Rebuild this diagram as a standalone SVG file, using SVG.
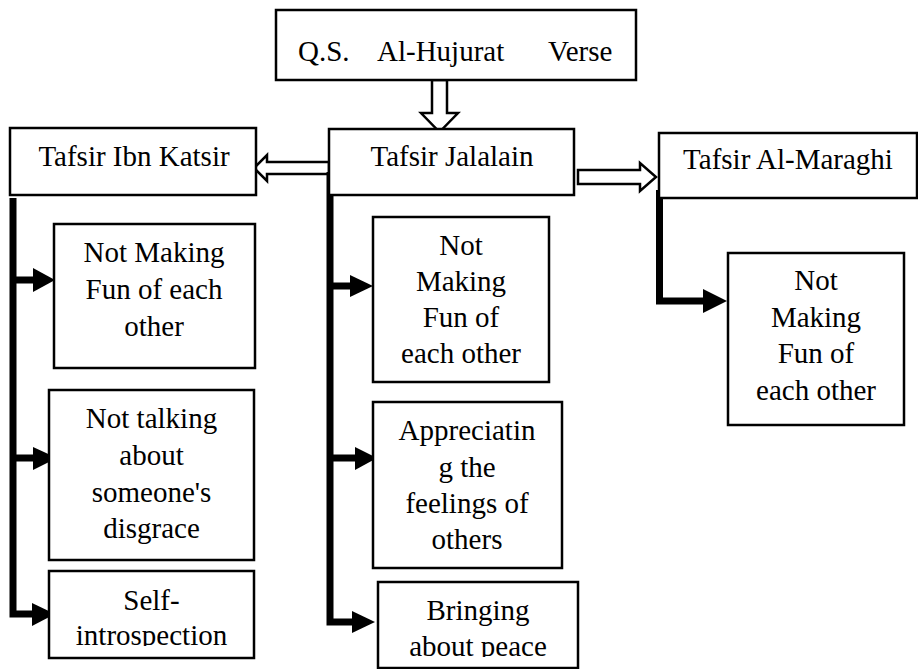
<svg xmlns="http://www.w3.org/2000/svg" width="918" height="669" viewBox="0 0 918 669">
<style>
.box{fill:#fff;stroke:#000;stroke-width:2.5}
.hollow{fill:#fff;stroke:#000;stroke-width:2.5;stroke-linejoin:miter}
.thick{fill:none;stroke:#000;stroke-width:7;stroke-linejoin:miter}
.head{fill:#000}
.t{font-family:"Liberation Serif","DejaVu Serif",serif;font-size:29px;fill:#000}
.c{text-anchor:middle}
</style>
<defs>
<clipPath id="clipL3"><rect x="40" y="560" width="230" height="86"/></clipPath>
<clipPath id="clipM3"><rect x="370" y="575" width="220" height="82"/></clipPath>
</defs>
<rect width="918" height="669" fill="#fff"/>

<g id="connectors">
<polygon class="hollow" points="432,80 447,80 447,113 458,113 439.5,132 421,113 432,113"/>
<polygon class="hollow" points="329,162 267,162 267,155 254,168 267,181 267,174 329,174"/>
<polygon class="hollow" points="578,170 640,170 640,163 656,177 640,191 640,184 578,184"/>
<path class="thick" d="M13,198 V614 H34 M13,280 H35 M13,458 H35"/>
<polygon class="head" points="33,268 55,280 33,292"/>
<polygon class="head" points="33,447 57,458 33,470"/>
<polygon class="head" points="32,603 55,614 32,626"/>
<path class="thick" d="M330,172 V622 H353 M330,286 H351 M330,458 H356"/>
<polygon class="head" points="350,275 373,286 350,297"/>
<polygon class="head" points="355,447 377,458 355,470"/>
<polygon class="head" points="352,611 375,622 352,633"/>
<path class="thick" d="M659.5,190 V301 H704"/>
<polygon class="head" points="703,289 727,301 703,313"/>
</g>

<g id="verse">
<rect class="box" x="276" y="10" width="360" height="70"/>
<text class="t" y="61"><tspan x="298">Q.S.</tspan><tspan x="377">Al-Hujurat</tspan><tspan x="548">Verse</tspan></text>
</g>

<g id="ibnkatsir">
<rect class="box" x="10" y="128" width="246" height="67"/>
<text class="t c" x="134" y="166">Tafsir Ibn Katsir</text>
</g>

<g id="jalalain">
<rect class="box" x="329" y="129" width="245" height="66"/>
<text class="t c" x="452" y="166">Tafsir Jalalain</text>
</g>

<g id="maraghi">
<rect class="box" x="659" y="133" width="258" height="65"/>
<text class="t c" x="788" y="169">Tafsir Al-Maraghi</text>
</g>

<g id="l1">
<rect class="box" x="54" y="224" width="201" height="144"/>
<text class="t c"><tspan x="154" y="262">Not Making</tspan><tspan x="154" y="299">Fun of each</tspan><tspan x="154" y="336">other</tspan></text>
</g>

<g id="l2">
<rect class="box" x="49" y="390" width="205" height="170"/>
<text class="t c"><tspan x="151.5" y="428">Not talking</tspan><tspan x="151.5" y="465">about</tspan><tspan x="151.5" y="502">someone's</tspan><tspan x="151.5" y="538">disgrace</tspan></text>
</g>

<g id="l3">
<rect class="box" x="49" y="571" width="205" height="87"/>
<text class="t c" clip-path="url(#clipL3)"><tspan x="151.5" y="610">Self-</tspan><tspan x="151.5" y="645">introspection</tspan></text>
</g>

<g id="m1">
<rect class="box" x="373" y="217" width="176" height="165"/>
<text class="t c"><tspan x="461" y="255">Not</tspan><tspan x="461" y="291">Making</tspan><tspan x="461" y="327">Fun of</tspan><tspan x="461" y="363">each other</tspan></text>
</g>

<g id="m2">
<rect class="box" x="373" y="402" width="189" height="166"/>
<text class="t c"><tspan x="467" y="440">Appreciatin</tspan><tspan x="467" y="477">g the</tspan><tspan x="467" y="513">feelings of</tspan><tspan x="467" y="549">others</tspan></text>
</g>

<g id="m3">
<rect class="box" x="378" y="582" width="200" height="86"/>
<text class="t c" clip-path="url(#clipM3)"><tspan x="478" y="620">Bringing</tspan><tspan x="478" y="656">about peace</tspan></text>
</g>

<g id="r1">
<rect class="box" x="728" y="253" width="176" height="172"/>
<text class="t c"><tspan x="816" y="290">Not</tspan><tspan x="816" y="327">Making</tspan><tspan x="816" y="363">Fun of</tspan><tspan x="816" y="400">each other</tspan></text>
</g>
</svg>
